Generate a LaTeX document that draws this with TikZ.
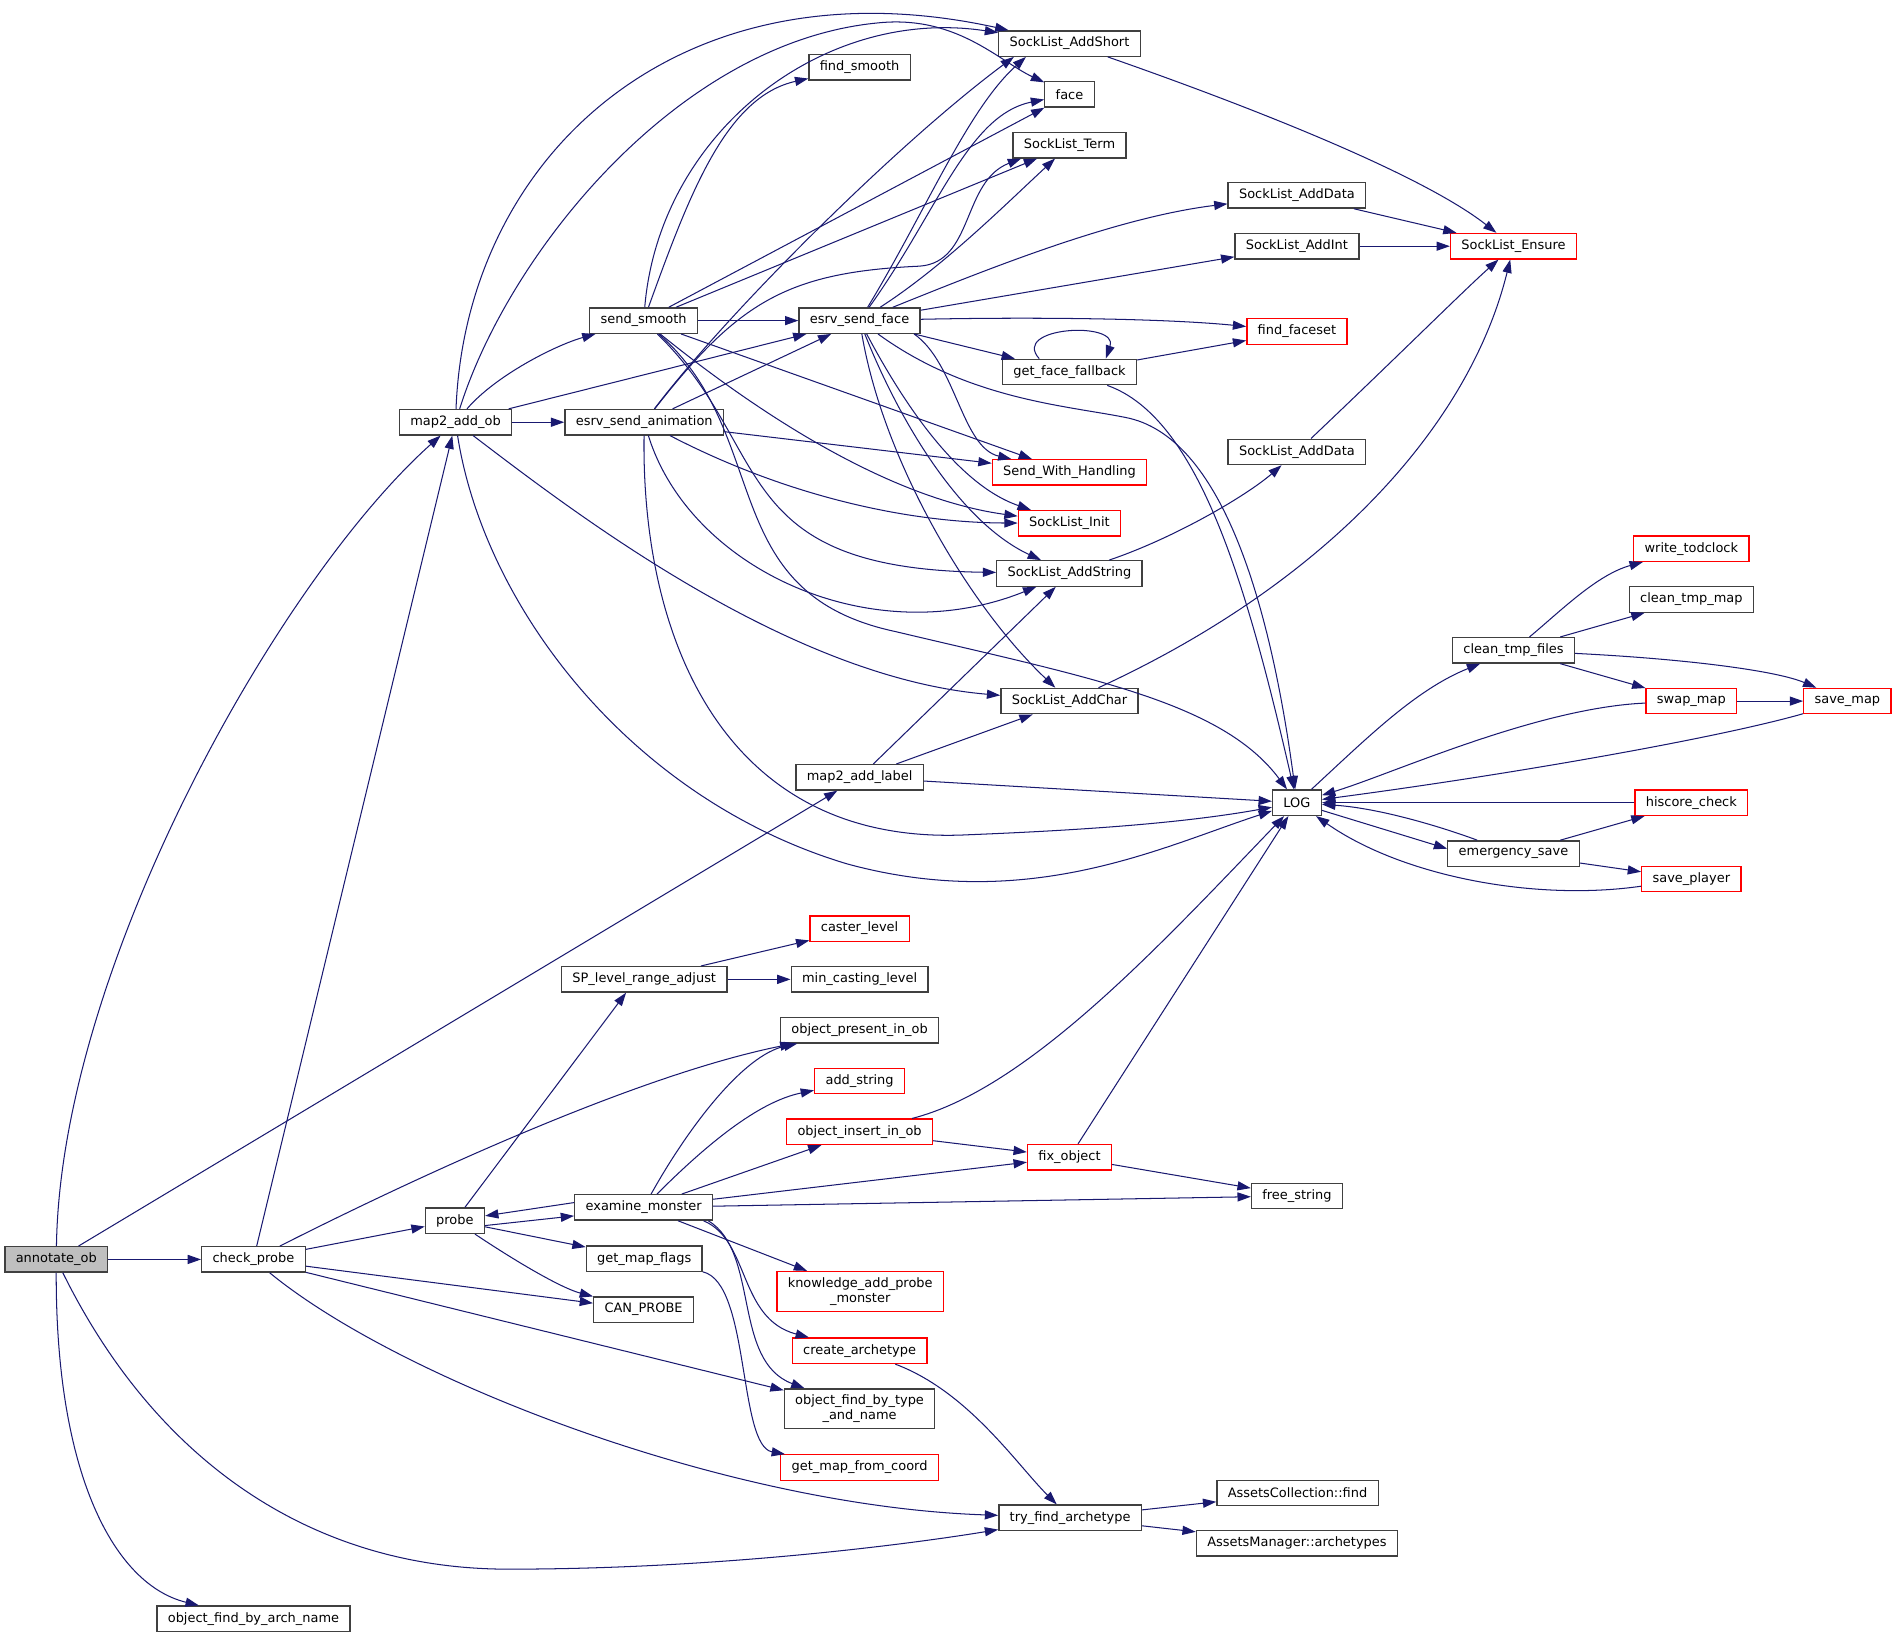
\documentclass[tikz,border=0pt]{standalone}
\usepackage{fontspec}
\setmainfont{DejaVu Sans}
\usetikzlibrary{arrows.meta}
\definecolor{edgec}{HTML}{191970}
\definecolor{boxc}{HTML}{404040}
\definecolor{rootf}{HTML}{BFBFBF}
\begin{document}
\begin{tikzpicture}[x=1pt,y=-1pt,
  nd/.style={draw=boxc, line width=1.1pt, fill=white, minimum height=21pt, inner xsep=9pt, inner ysep=0pt, font=\fontsize{10.7}{12.5}\selectfont, text=black, align=center},
  rd/.style={nd, draw=red},
  root/.style={nd, fill=rootf},
  ed/.style={draw=edgec, line width=0.85pt, -{Triangle[length=11pt,width=7.5pt]}},
]
\fill[white] (0,0) rectangle (1568,1354);
\useasboundingbox (0,0) rectangle (1568,1354);

\node[root] (an) at (46.5,1041) {annotate\_ob};
\node[nd] (cp) at (209.5,1041) {check\_probe};
\node[nd] (ofan) at (209.5,1338) {object\_find\_by\_arch\_name};
\node[nd] (m2o) at (376.5,349) {map2\_add\_ob};
\node[nd] (esa) at (532.5,349) {esrv\_send\_animation};
\node[nd] (ss) at (532,265) {send\_smooth};
\node[nd] (esf) at (710.5,265) {esrv\_send\_face};
\node[nd] (fs) at (710.5,55.5) {find\_smooth};
\node[nd] (sas) at (884,36) {SockList\_AddShort};
\node[nd] (face) at (884,78) {face};
\node[nd] (st) at (884,120) {SockList\_Term};
\node[nd] (sad1) at (1072,161.5) {SockList\_AddData};
\node[nd] (sai) at (1072,203.5) {SockList\_AddInt};
\node[rd] (sen) at (1251,203.5) {SockList\_Ensure};
\node[rd] (ffs) at (1072,274) {find\_faceset};
\node[nd] (gff) at (884,307.5) {get\_face\_fallback};
\node[nd] (sad2) at (1072,373.5) {SockList\_AddData};
\node[rd] (swh) at (884,390.5) {Send\_With\_Handling};
\node[rd] (si) at (884,432.5) {SockList\_Init};
\node[nd] (sast) at (884,474) {SockList\_AddString};
\node[nd] (sac) at (884,579.5) {SockList\_AddChar};
\node[nd] (m2l) at (710.5,642.5) {map2\_add\_label};
\node[nd] (log) at (1072,663.5) {LOG};
\node[nd] (ctf) at (1251,537.5) {clean\_tmp\_files};
\node[rd] (wt) at (1398,453.5) {write\_todclock};
\node[nd] (ctm) at (1398,495.5) {clean\_tmp\_map};
\node[rd] (swm) at (1398,579.5) {swap\_map};
\node[rd] (svm) at (1527,579.5) {save\_map};
\node[rd] (hc) at (1398,663.5) {hiscore\_check};
\node[nd] (es) at (1251,705.5) {emergency\_save};
\node[rd] (sp) at (1398,726.5) {save\_player};
\node[rd] (cl) at (710.5,767.5) {caster\_level};
\node[nd] (spl) at (532.5,809.5) {SP\_level\_range\_adjust};
\node[nd] (mcl) at (710.5,809.5) {min\_casting\_level};
\node[nd] (opi) at (710.5,851.5) {object\_present\_in\_ob};
\node[rd] (ads) at (710.5,893.5) {add\_string};
\node[rd] (oii) at (710.5,935.5) {object\_insert\_in\_ob};
\node[nd] (em) at (532,998) {examine\_monster};
\node[nd] (pr) at (376,1009) {probe};
\node[nd] (gmf) at (532.5,1040.5) {get\_map\_flags};
\node[nd] (can) at (532,1082.5) {CAN\_PROBE};
\node[rd, minimum height=33pt] (kap) at (711,1067.5) {knowledge\_add\_probe\\\_monster};
\node[rd] (ca) at (710.5,1116.5) {create\_archetype};
\node[rd] (fo) at (884,956.5) {fix\_object};
\node[nd] (fstr) at (1072,988.5) {free\_string};
\node[nd, minimum height=33pt] (oft) at (710.5,1164.5) {object\_find\_by\_type\\\_and\_name};
\node[rd] (gmc) at (710.5,1213) {get\_map\_from\_coord};
\node[nd] (tfa) at (884.5,1254.5) {try\_find\_archetype};
\node[nd] (acf) at (1072.5,1234) {AssetsCollection::find};
\node[nd] (ama) at (1072,1275.5) {AssetsManager::archetypes};

% annotate_ob
\draw[ed] (an) -- (cp);
\draw[ed] (an) .. controls (50,800) and (230,480) .. (m2o);
\draw[ed] (an) -- (m2l);
\draw[ed] (an) .. controls (46,1220) and (95,1310) .. (ofan);
\draw[ed] (an) .. controls (130,1210) and (260,1297) .. (420,1297) .. controls (600,1297) and (760,1275) .. (tfa);
% check_probe
\draw[ed] (cp) -- (m2o);
\draw[ed] (cp) -- (pr);
\draw[ed] (cp) .. controls (330,980) and (520,890) .. (opi);
\draw[ed] (cp) -- (can);
\draw[ed] (cp) -- (oft);
\draw[ed] (cp) .. controls (330,1140) and (600,1245) .. (tfa);
% map2_add_ob
\draw[ed] (m2o) .. controls (410,310) and (460,285) .. (ss);
\draw[ed] (m2o) -- (esa);
\draw[ed] (m2o) -- (esf);
\draw[ed] (m2o) .. controls (385,130) and (560,-35) .. (sas);
\draw[ed] (m2o) .. controls (420,210) and (560,35) .. (725,19) .. controls (790,12) and (825,50) .. (face);
\draw[ed] (m2o) .. controls (470,420) and (650,560) .. (sac);
\draw[ed] (m2o) .. controls (400,500) and (520,660) .. (700,714) .. controls (850,755) and (960,700) .. (log);
% send_smooth
\draw[ed] (ss) .. controls (545,110) and (680,5) .. (sas);
\draw[ed] (ss) .. controls (570,160) and (600,80) .. (fs);
\draw[ed] (ss) -- (face);
\draw[ed] (ss) -- (st);
\draw[ed] (ss) -- (esf);
\draw[ed] (ss) -- (swh);
\draw[ed] (ss) .. controls (600,320) and (720,410) .. (si);
\draw[ed] (ss) .. controls (640,370) and (600,470) .. (sast);
\draw[ed] (ss) .. controls (640,360) and (590,490) .. (740,522) .. controls (900,560) and (1010,580) .. (log);
% esrv_send_animation
\draw[ed] (esa) .. controls (600,260) and (740,120) .. ([xshift=-46pt]sas.south);
\draw[ed] (esa) .. controls (610,250) and (650,225) .. (760,220) .. controls (805,217) and (795,150) .. ([xshift=-40pt]st.south);
\draw[ed] (esa) -- (esf);
\draw[ed] (esa) -- (swh);
\draw[ed] (esa) .. controls (650,410) and (750,432) .. (si);
\draw[ed] (esa) .. controls (570,470) and (720,540) .. (sast);
\draw[ed] (esa) .. controls (530,530) and (600,700) .. (800,690) .. controls (900,686) and (980,680) .. (log);
% esrv_send_face
\draw[ed] (esf) .. controls (765,175) and (800,90) .. ([xshift=-36pt]sas.south);
\draw[ed] (esf) .. controls (775,175) and (800,95) .. (face);
\draw[ed] (esf) .. controls (780,220) and (830,170) .. (st);
\draw[ed] (esf) .. controls (810,225) and (920,180) .. (sad1);
\draw[ed] (esf) -- (sai);
\draw[ed] (esf) .. controls (850,262) and (960,263) .. (ffs);
\draw[ed] (esf) -- (gff);
\draw[ed] ([xshift=45pt]esf.south) .. controls (790,300) and (795,370) .. (swh);
\draw[ed] (esf) .. controls (745,330) and (790,400) .. (si);
\draw[ed] (esf) .. controls (740,340) and (790,430) .. (sast);
\draw[ed] (esf) .. controls (730,380) and (800,500) .. (sac);
\draw[ed] (esf) .. controls (800,330) and (880,335) .. (930,345) .. controls (1010,360) and (1050,500) .. (log);
% get_face_fallback
\draw[ed] ([xshift=-25pt]gff.north) .. controls (835,270) and (925,265) .. ([xshift=30pt]gff.north);
\draw[ed] (gff) -- (ffs);
\draw[ed] (gff) .. controls (990,345) and (1030,480) .. (log);
% SockList family
\draw[ed] (sas) .. controls (1010,80) and (1170,140) .. (sen);
\draw[ed] (sad1) -- (sen);
\draw[ed] (sai) -- (sen);
\draw[ed] (sad2) .. controls (1160,290) and (1210,240) .. (sen);
\draw[ed] (sac) .. controls (1100,480) and (1215,350) .. (sen);
\draw[ed] (sast) .. controls (970,445) and (1030,410) .. (sad2);
% map2_add_label
\draw[ed] (m2l) -- (sast);
\draw[ed] (m2l) -- (sac);
\draw[ed] (m2l) -- (log);
% LOG family
\draw[ed] (log) .. controls (1130,610) and (1170,570) .. (ctf);
\draw[ed] (log) -- ([yshift=4pt]es.west);
\draw[ed] (es) .. controls (1190,683) and (1140,668) .. (log);
\draw[ed] (swm) .. controls (1270,585) and (1150,640) .. (log);
\draw[ed] (svm) .. controls (1420,610) and (1250,640) .. (log);
\draw[ed] (hc) -- (log);
\draw[ed] (sp) .. controls (1270,745) and (1160,725) .. (log);
\draw[ed] (ctf) .. controls (1290,505) and (1320,475) .. (wt);
\draw[ed] (ctf) -- (ctm);
\draw[ed] (ctf) -- (swm);
\draw[ed] (ctf) .. controls (1400,545) and (1470,555) .. (svm);
\draw[ed] (swm) -- (svm);
\draw[ed] (es) -- (hc);
\draw[ed] (es) -- (sp);
% probe / examine_monster
\draw[ed] ([yshift=4pt]em.west) -- ([yshift=4pt]pr.east);
\draw[ed] ([yshift=-4pt]pr.east) -- ([yshift=-7pt]em.west);
\draw[ed] (pr) -- ([xshift=-15pt]spl.south);
\draw[ed] (pr) -- (gmf);
\draw[ed] (pr) .. controls (430,1045) and (465,1065) .. (can);
\draw[ed] (em) .. controls (570,930) and (615,872) .. (opi);
\draw[ed] (em) .. controls (590,940) and (630,910) .. (ads);
\draw[ed] (em) -- (oii);
\draw[ed] (em) -- (fo);
\draw[ed] (em) -- (fstr);
\draw[ed] (em) -- (kap);
\draw[ed] ([xshift=-8pt]em.south east) .. controls (620,1025) and (610,1090) .. (ca);
\draw[ed] ([xshift=-4pt]em.south east) .. controls (628,1035) and (605,1125) .. (oft);
\draw[ed] (gmf) .. controls (620,1060) and (610,1195) .. (gmc);
\draw[ed] (oii) -- (fo);
\draw[ed] (oii) .. controls (850,900) and (960,780) .. (log);
\draw[ed] (fo) -- (log);
\draw[ed] (fo) -- (fstr);
\draw[ed] (spl) -- (cl);
\draw[ed] (spl) -- (mcl);
\draw[ed] (ca) .. controls (800,1150) and (840,1210) .. (tfa);
\draw[ed] (tfa) -- (acf);
\draw[ed] (tfa) -- (ama);
\end{tikzpicture}
\end{document}
